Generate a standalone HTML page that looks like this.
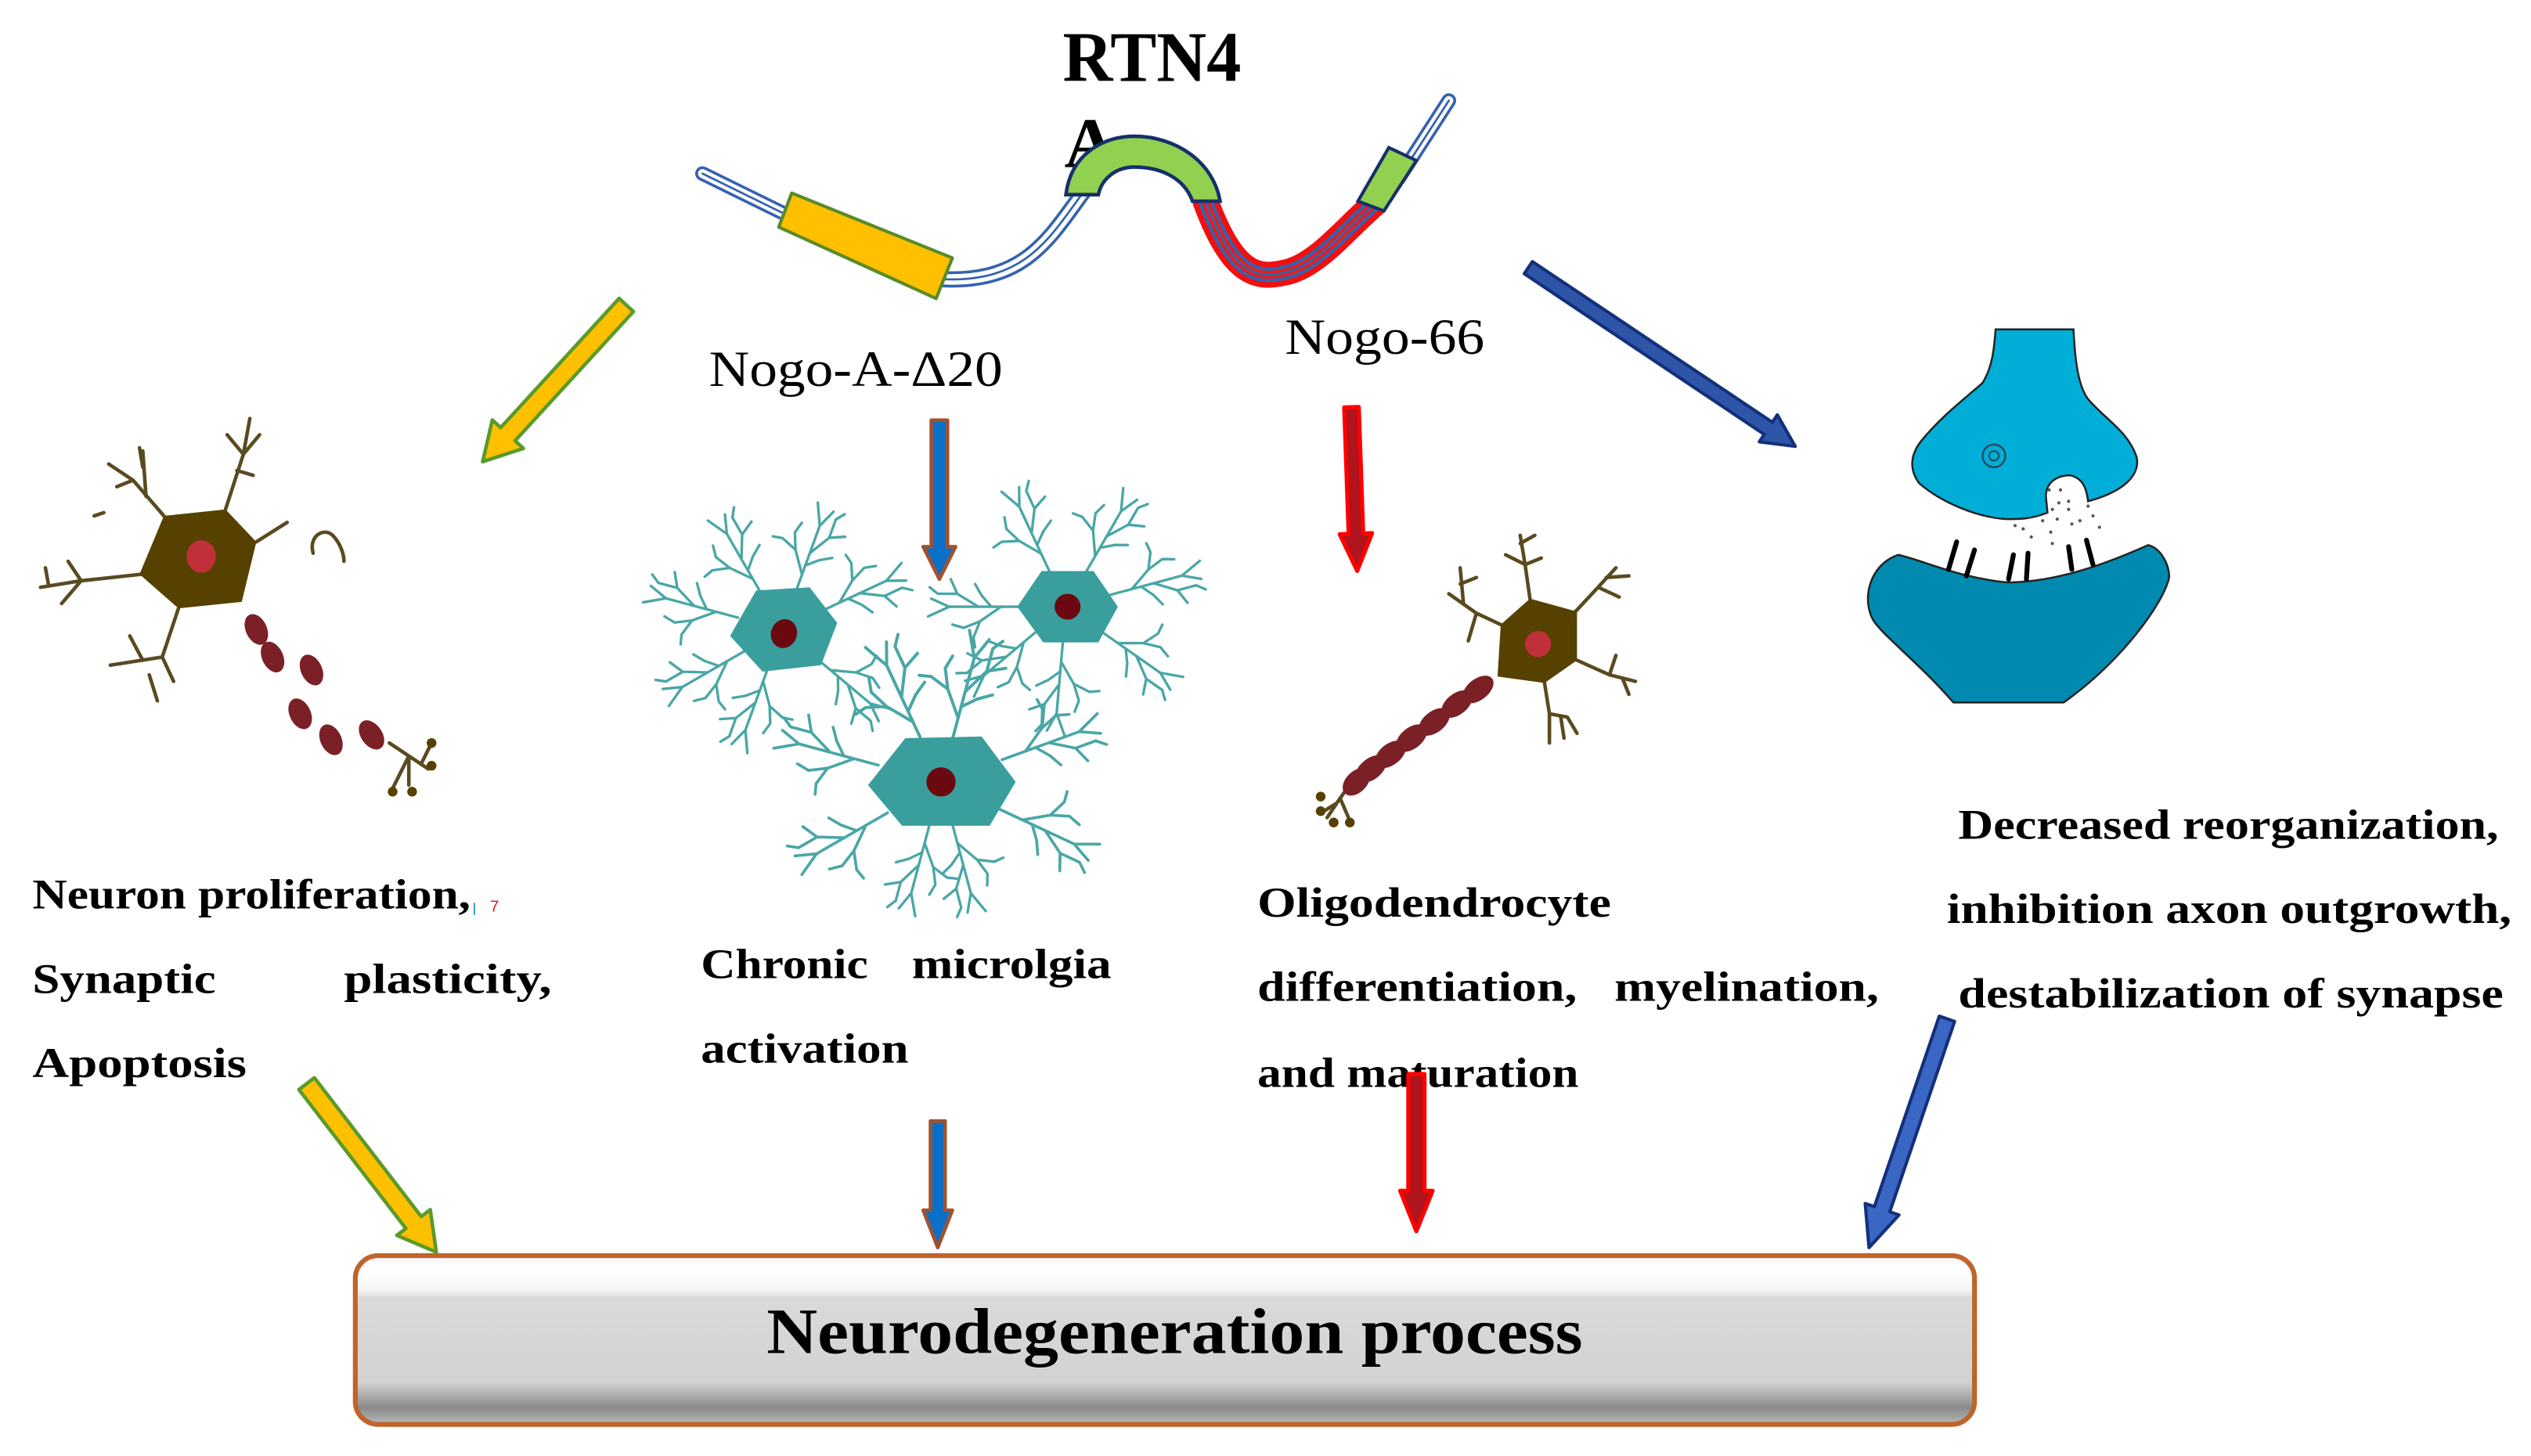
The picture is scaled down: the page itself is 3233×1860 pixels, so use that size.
<!DOCTYPE html>
<html><head><meta charset="utf-8"><style>
html,body{margin:0;padding:0;background:#fff}
svg{display:block}
.t{font-family:"Liberation Serif",serif;font-weight:bold;font-size:26px;fill:#000}
.n{font-family:"Liberation Serif",serif;font-size:31px;fill:#000}
</style></head><body>
<svg width="3233" height="1860" viewBox="0 0 1560 897.5" preserveAspectRatio="none" xmlns="http://www.w3.org/2000/svg">
<defs>
<linearGradient id="bx" x1="0" y1="0" x2="0" y2="1">
<stop offset="0" stop-color="#f4f4f4"/><stop offset="0.08" stop-color="#ffffff"/><stop offset="0.2" stop-color="#f6f6f6"/>
<stop offset="0.25" stop-color="#dadada"/><stop offset="0.75" stop-color="#d2d2d2"/><stop offset="0.9" stop-color="#8a8a8a"/><stop offset="1" stop-color="#b8b8b8"/>
</linearGradient>
<g id="br" fill="none" stroke="#4aa6a6" stroke-width="1.6" stroke-linecap="round">
<path d="M0,0 L46,0 M14,0 L27,-9 L37,-13 M27,-9 L31,-19 M28,0 L41,8 L53,8 M41,8 L45,17 M46,0 L59,-6 M46,0 L57,5 M37,-13 L44,-11 M31,-19 L30,-25 M53,8 L58,12 M20,0 L26,7 L30,14"/>
</g>
<g id="dd" fill="none" stroke="#5a4a20" stroke-width="2.2" stroke-linecap="round">
<path d="M0,0 L28,0 M14,0 L24,-8 M20,0 L30,7 M28,0 L38,-5 M28,0 L37,5"/>
</g>
</defs>

<!-- Title -->
<text x="655" y="50" font-family="Liberation Serif,serif" font-weight="bold" font-size="44" textLength="110" lengthAdjust="spacingAndGlyphs">RTN4</text>
<text x="656" y="103" font-family="Liberation Serif,serif" font-weight="bold" font-size="44">A</text>

<!-- protein -->
<g fill="none" stroke-linecap="round">
<path d="M433,107 L490,135" stroke="#3462b0" stroke-width="9"/><path d="M433,107 L490,135" stroke="#fff" stroke-width="5.5"/><path d="M433,107 L490,135" stroke="#3462b0" stroke-width="1.3"/>
<path d="M578,172 C630,175 645,150 668,118" stroke="#3462b0" stroke-width="10"/><path d="M578,172 C630,175 645,150 668,118" stroke="#fff" stroke-width="6.5"/><path d="M578,172 C630,175 645,150 668,118" stroke="#3462b0" stroke-width="1.3"/>
<path d="M862,110 L893,62" stroke="#3462b0" stroke-width="9"/><path d="M862,110 L893,62" stroke="#fff" stroke-width="5.5"/><path d="M862,110 L893,62" stroke="#3462b0" stroke-width="1.3"/>
<path d="M743,124 C760,170 775,172 792,168 C812,164 830,140 848,125" stroke="#f01010" stroke-width="16"/>
<path d="M743,124 C760,170 775,172 792,168 C812,164 830,140 848,125" stroke="#3462b0" stroke-width="9"/>
<path d="M743,124 C760,170 775,172 792,168 C812,164 830,140 848,125" stroke="#e02020" stroke-width="5"/>
<path d="M743,124 C760,170 775,172 792,168 C812,164 830,140 848,125" stroke="#3462b0" stroke-width="1.3"/>
</g>
<polygon points="488,119 587,159 577,184 480,140" fill="#ffc000" stroke="#5a8a2a" stroke-width="2" stroke-linejoin="round"/>
<path d="M657,120 C660,95 680,84 699,84 C725,84 748,100 752,124 L735,124 C730,110 716,103 699,103 C688,103 679,110 677,120 Z" fill="#92d050" stroke="#16306a" stroke-width="2.2"/>
<polygon points="856,91 873,99 853,130 837,124" fill="#92d050" stroke="#16306a" stroke-width="2"/>

<text x="437" y="238" class="n" textLength="181" lengthAdjust="spacingAndGlyphs">Nogo-A-Δ20</text>
<text x="792" y="218" class="n" textLength="123" lengthAdjust="spacingAndGlyphs">Nogo-66</text>

<!-- top arrows -->
<g transform="translate(386,188) rotate(132.5)"><polygon points="0,-6 108,-6 108,-13 131,0 108,13 108,6 0,6" fill="#ffc000" stroke="#5a9a2a" stroke-width="2.2" stroke-linejoin="round"/></g>
<g transform="translate(942,165) rotate(33.8)"><polygon points="0,-4.5 178,-4.5 178,-10 198,0 178,10 178,4.5 0,4.5" fill="#2e55a8" stroke="#13307a" stroke-width="2" stroke-linejoin="round"/></g>
<g transform="translate(579,259) rotate(90)"><polygon points="0,-5 78,-5 78,-10 98,0 78,10 78,5 0,5" fill="#0c70c8" stroke="#a0522d" stroke-width="2.2" stroke-linejoin="round"/></g>
<g transform="translate(833,251) rotate(88)"><polygon points="0,-4.5 78,-4.5 78,-10 101,0 78,10 78,4.5 0,4.5" fill="#b0141c" stroke="#ff0000" stroke-width="2.5" stroke-linejoin="round"/></g>

<!-- left neuron -->
<g fill="none" stroke="#5a4a20" stroke-width="2.2" stroke-linecap="round">
<path d="M139,314 L150,280 L154,258 M150,280 L160,268 M146,290 L156,293 M150,280 L140,268"/>
<path d="M101,318 L82,296 L67,286 M82,296 L72,300 M90,306 L88,278"/>
<path d="M87,354 L50,358 L25,362 M50,358 L42,346 M50,358 L38,372 M30,361 L28,350"/>
<path d="M110,375 L100,405 L68,410 M100,405 L107,420 M88,407 L80,392"/>
<path d="M158,334 L177,322"/>
<path d="M193,341 C190,330 200,325 205,330 C210,335 212,342 212,346"/>
<path d="M92,416 L97,432 M86,276 L88,288 M58,318 L64,316 M240,458 L264,474 M252,466 L252,484 M252,466 L242,486 M260,470 L266,458"/>
</g>
<polygon points="101,318 139,314 158,334 149,371 110,375 86,354" fill="#574100"/>
<ellipse cx="124" cy="343" rx="9" ry="10" fill="#c0303a"/>
<g fill="#7b2026">
<ellipse cx="158" cy="388" rx="6.5" ry="10" transform="rotate(-25 158 388)"/>
<ellipse cx="168" cy="405" rx="6.5" ry="10" transform="rotate(-25 168 405)"/>
<ellipse cx="192" cy="413" rx="6.5" ry="10" transform="rotate(-25 192 413)"/>
<ellipse cx="185" cy="440" rx="6.5" ry="10" transform="rotate(-25 185 440)"/>
<ellipse cx="204" cy="456" rx="6.5" ry="10" transform="rotate(-25 204 456)"/>
<ellipse cx="229" cy="453" rx="6.5" ry="10" transform="rotate(-35 229 453)"/>
</g>
<g fill="#574100"><circle cx="242" cy="488" r="3"/><circle cx="254" cy="488" r="3"/><circle cx="266" cy="472" r="3"/><circle cx="266" cy="458" r="3"/></g>

<!-- microglia -->
<g transform="translate(482,388)">
<use href="#br" transform="rotate(-70) translate(22,0)"/><use href="#br" transform="rotate(-120) translate(22,0)"/><use href="#br" transform="rotate(-165) translate(28,0)"/><use href="#br" transform="rotate(150) translate(25,0)"/><use href="#br" transform="rotate(110) translate(20,0)"/><use href="#br" transform="rotate(-25) translate(25,0)"/><use href="#br" transform="rotate(40) translate(25,0)"/>
<polygon points="-16,-24 17,-26 34,-4 24,22 -12,26 -32,4" fill="#3a9e9c"/>
<ellipse cx="2" cy="2" rx="8" ry="9" fill="#6a0a10" transform="rotate(20)"/>
</g>
<g transform="translate(657,374)">
<use href="#br" transform="rotate(-60) translate(22,0)"/><use href="#br" transform="rotate(-115) translate(22,0)"/><use href="#br" transform="rotate(180) translate(26,0)"/><use href="#br" transform="rotate(140) translate(20,0)"/><use href="#br" transform="rotate(95) translate(20,0)"/><use href="#br" transform="rotate(-15) translate(28,0)"/><use href="#br" transform="rotate(35) translate(25,0)"/>
<polygon points="-15,-22 17,-22 32,0 20,22 -14,22 -30,0" fill="#3a9e9c"/>
<ellipse cx="1" cy="0" rx="8" ry="8" fill="#6a0a10"/>
</g>
<g transform="translate(580,482)">
<use href="#br" transform="rotate(-75) translate(24,0) scale(1.2)"/><use href="#br" transform="rotate(-115) translate(24,0) scale(1.2)"/><use href="#br" transform="rotate(-165) translate(40,0) scale(1.1)"/><use href="#br" transform="rotate(150) translate(38,0) scale(1.1)"/><use href="#br" transform="rotate(105) translate(25,0)"/><use href="#br" transform="rotate(75) translate(25,0)"/><use href="#br" transform="rotate(-20) translate(40,0) scale(1.1)"/><use href="#br" transform="rotate(25) translate(40,0) scale(1.1)"/>
<polygon points="-22,-27 25,-28 46,0 30,27 -24,27 -45,2" fill="#3a9e9c"/>
<ellipse cx="0" cy="0" rx="9" ry="9" fill="#6a0a10"/>
</g>

<!-- oligodendrocyte neuron -->
<g fill="none" stroke="#5a4a20" stroke-width="2.2" stroke-linecap="round">
<path d="M943,369 L940,348 L937,330 M940,348 L928,342 M940,348 L950,344 M937,335 L946,330"/>
<path d="M925,385 L910,378 L893,366 M910,378 L905,395 M902,372 L900,350 M900,360 L910,356"/>
<path d="M971,377 L985,362 L996,350 M985,362 L998,368 M990,356 L1004,355"/>
<path d="M972,407 L992,416 L1008,420 M992,416 L996,404 M1000,418 L1004,428"/>
<path d="M952,421 L955,440 L955,458 M955,440 L966,442 L972,452 M962,442 L964,455"/>
<path d="M833,482 L824,495 L816,500 M826,492 L818,504 M826,492 L832,506"/>
</g>
<polygon points="943,369 972,377 972,407 952,421 923,417 925,385" fill="#574100"/>
<circle cx="948" cy="397" r="8" fill="#c0303a"/>
<g fill="#7b2026">
<ellipse cx="911" cy="425" rx="11" ry="6.5" transform="rotate(-38 911 425)"/>
<ellipse cx="898" cy="434" rx="11" ry="6.5" transform="rotate(-38 898 434)"/>
<ellipse cx="884" cy="445" rx="11" ry="6.5" transform="rotate(-38 884 445)"/>
<ellipse cx="870" cy="455" rx="11" ry="6.5" transform="rotate(-38 870 455)"/>
<ellipse cx="857" cy="465" rx="11" ry="6.5" transform="rotate(-38 857 465)"/>
<ellipse cx="845" cy="474" rx="11" ry="6.5" transform="rotate(-38 845 474)"/>
<ellipse cx="836" cy="482" rx="10" ry="6.5" transform="rotate(-45 836 482)"/>
</g>
<g fill="#574100"><circle cx="814" cy="491" r="3"/><circle cx="814" cy="500" r="3"/><circle cx="822" cy="507" r="3"/><circle cx="832" cy="507" r="3"/></g>

<!-- synapse -->
<g transform="translate(-3,-2)">
<path d="M1233,205 L1281,205 C1282,225 1284,240 1290,248 C1300,260 1315,268 1320,284 C1322,295 1312,305 1290,311 C1289,303 1287,297 1279,295 C1270,295 1264,300 1264,308 L1265,318 C1255,322 1248,322 1240,322 C1222,321 1200,312 1186,300 C1180,292 1180,283 1187,274 C1200,258 1215,247 1225,238 C1231,228 1232,218 1233,205 Z" fill="#00aed8" stroke="#222" stroke-width="1.2"/>
<circle cx="1232" cy="283" r="7" fill="none" stroke="#2a4a60" stroke-width="1.2"/>
<circle cx="1232" cy="283" r="3" fill="none" stroke="#2a4a60" stroke-width="1"/>
<path d="M1173,344 C1190,348 1210,358 1240,361 C1270,361 1300,350 1327,338 C1335,340 1340,350 1340,358 C1336,375 1310,410 1275,435 L1207,435 C1185,410 1165,395 1158,385 C1150,372 1155,350 1173,344 Z" fill="#008aaf" stroke="#222" stroke-width="1.2"/>
<g stroke="#000" stroke-width="3" stroke-linecap="round">
<line x1="1209" y1="336" x2="1204" y2="353"/><line x1="1220" y1="341" x2="1215" y2="357"/><line x1="1244" y1="344" x2="1241" y2="359"/><line x1="1253" y1="343" x2="1252" y2="359"/><line x1="1278" y1="339" x2="1280" y2="353"/><line x1="1289" y1="335" x2="1293" y2="350"/>
</g>
<g fill="#555"><circle cx="1266" cy="304" r="1"/><circle cx="1273" cy="304" r="1"/><circle cx="1272" cy="312" r="1"/><circle cx="1278" cy="311" r="1"/><circle cx="1268" cy="316" r="1"/><circle cx="1278" cy="316" r="1"/><circle cx="1290" cy="314" r="1"/><circle cx="1293" cy="320" r="1"/><circle cx="1262" cy="323" r="1"/><circle cx="1271" cy="322" r="1"/><circle cx="1280" cy="325" r="1"/><circle cx="1285" cy="323" r="1"/><circle cx="1297" cy="327" r="1"/><circle cx="1250" cy="328" r="1"/><circle cx="1255" cy="333" r="1"/><circle cx="1267" cy="330" r="1"/><circle cx="1268" cy="337" r="1"/><circle cx="1245" cy="326" r="1"/></g>
</g>

<!-- texts -->
<text class="t" x="20" y="560" textLength="270" lengthAdjust="spacingAndGlyphs">Neuron proliferation,</text>
<text x="291" y="562" font-family="Liberation Sans,sans-serif" font-size="10" fill="#20a0b0">ꞁ</text><text x="302" y="562" font-family="Liberation Sans,sans-serif" font-size="10" fill="#e02020">7</text>
<text class="t" x="20" y="612" textLength="113" lengthAdjust="spacingAndGlyphs">Synaptic</text>
<text class="t" x="212" y="612" textLength="128" lengthAdjust="spacingAndGlyphs">plasticity,</text>
<text class="t" x="20" y="664" textLength="132" lengthAdjust="spacingAndGlyphs">Apoptosis</text>
<text class="t" x="432" y="603" textLength="103" lengthAdjust="spacingAndGlyphs">Chronic</text>
<text class="t" x="562" y="603" textLength="123" lengthAdjust="spacingAndGlyphs">microlgia</text>
<text class="t" x="432" y="655" textLength="128" lengthAdjust="spacingAndGlyphs">activation</text>
<text class="t" x="775" y="565" textLength="218" lengthAdjust="spacingAndGlyphs">Oligodendrocyte</text>
<text class="t" x="775" y="617" textLength="197" lengthAdjust="spacingAndGlyphs">differentiation,</text>
<text class="t" x="995" y="617" textLength="163" lengthAdjust="spacingAndGlyphs">myelination,</text>
<text class="t" x="775" y="670" textLength="198" lengthAdjust="spacingAndGlyphs">and maturation</text>
<text class="t" x="1207" y="517" textLength="333" lengthAdjust="spacingAndGlyphs">Decreased reorganization,</text>
<text class="t" x="1200" y="569" textLength="348" lengthAdjust="spacingAndGlyphs">inhibition axon outgrowth,</text>
<text class="t" x="1207" y="621" textLength="336" lengthAdjust="spacingAndGlyphs">destabilization of synapse</text>

<!-- bottom arrows -->
<g transform="translate(189,668) rotate(52.4)"><polygon points="0,-6 108,-6 108,-13 131,0 108,13 108,6 0,6" fill="#ffc000" stroke="#5a9a2a" stroke-width="2.2" stroke-linejoin="round"/></g>
<g transform="translate(578,691) rotate(90)"><polygon points="0,-4.5 55,-4.5 55,-9 78,0 55,9 55,4.5 0,4.5" fill="#0c70c8" stroke="#a0522d" stroke-width="2.2" stroke-linejoin="round"/></g>
<g transform="translate(873,662) rotate(90)"><polygon points="0,-5 72,-5 72,-10 97,0 72,10 72,5 0,5" fill="#b0141c" stroke="#ff0000" stroke-width="2.5" stroke-linejoin="round"/></g>
<g transform="translate(1200,628) rotate(108.8)"><polygon points="0,-5 124,-5 124,-11 149,0 124,11 124,5 0,5" fill="#3a66c4" stroke="#13307a" stroke-width="2" stroke-linejoin="round"/></g>

<!-- box -->
<rect x="219" y="774" width="998" height="104" rx="14" fill="url(#bx)" stroke="#c0642c" stroke-width="3"/>
<text x="724" y="834" text-anchor="middle" font-family="Liberation Serif,serif" font-weight="bold" font-size="40" textLength="503" lengthAdjust="spacingAndGlyphs">Neurodegeneration process</text>
</svg>
</body></html>
